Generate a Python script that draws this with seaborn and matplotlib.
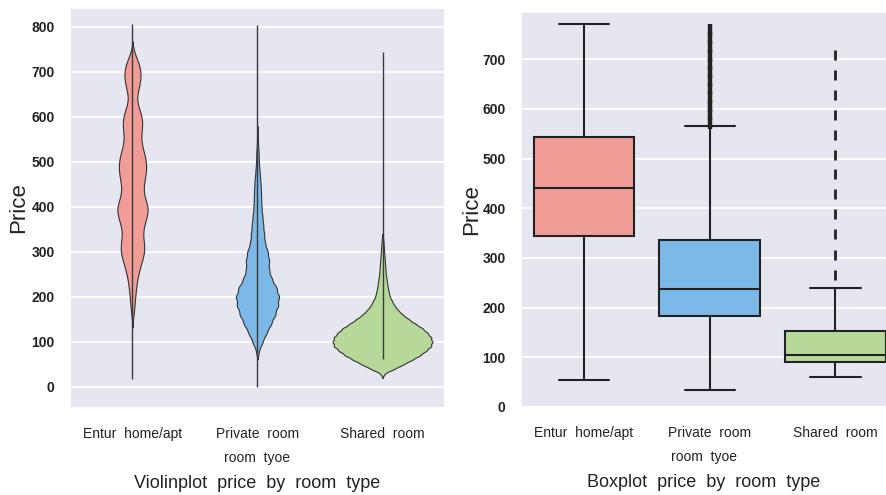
import numpy as np
import pandas as pd
import matplotlib
matplotlib.use("Agg")
import matplotlib.pyplot as plt
import seaborn as sns

# room types and colours
room_types = ["Entur home/apt", "Private room", "Shared room"]
room_colors = ["#F19C96", "#7CB9E8", "#B6D99A"]

# violin data: price levels and how many listings sit at each level
entire_violin_prices = [160, 180, 200, 220, 240, 260, 280, 300, 320, 340, 360,
                        380, 400, 420, 440, 460, 480, 500, 520, 540, 560, 580, 600,
                        620, 640, 660, 680, 700, 720, 740]
entire_violin_counts = [2, 4, 5, 7, 9, 13, 18, 23, 22, 19, 22,
                        28, 30, 23, 20, 23, 26, 26, 22, 17, 16, 19, 18,
                        12, 7, 11, 15, 16, 12, 4]

private_violin_prices = [80, 100, 120, 140, 160, 180, 200, 220, 240, 260, 280,
                         300, 320, 340, 360, 380, 400, 420, 440, 460, 480, 500,
                         520, 540, 560]
private_violin_counts = [5, 18, 32, 48, 62, 72, 76, 67, 50, 40, 41,
                         36, 26, 23, 20, 17, 14, 13, 12, 10, 7, 5,
                         4, 2, 1]

shared_violin_prices = [30, 40, 50, 60, 70, 80, 90, 100, 110, 120, 130, 140, 150,
                        160, 170, 180, 190, 200, 210, 220, 230, 240, 250, 260,
                        270, 280, 290, 300, 310, 320, 330]
shared_violin_counts = [6, 36, 63, 89, 113, 131, 146, 150, 146, 135, 120, 99, 79,
                        61, 47, 36, 29, 22, 19, 16, 14, 12, 10, 9,
                        8, 7, 6, 5, 4, 3, 2]

# full price range of each room type in the violin panel
violin_price_min = [17, 0, 61]
violin_price_max = [806, 804, 744]

# boxplot data
entire_box_prices = [54, 345, 441, 543, 771]
entire_box_counts = [1, 1, 1, 1, 1]

private_box_prices = [35, 184, 238, 337, 565,
                      572, 589, 606, 623, 640, 657, 674, 691, 708, 725, 742, 758]
private_box_counts = [1, 13, 13, 13, 1,
                      1, 1, 1, 1, 1, 1, 1, 1, 1, 1, 1, 1]

shared_box_prices = [60, 90, 105, 152, 239,
                     265, 305, 348, 388, 428, 468, 508, 548, 588, 628, 668, 708]
shared_box_counts = [1, 13, 13, 13, 1,
                     1, 1, 1, 1, 1, 1, 1, 1, 1, 1, 1, 1]


def build_frame(groups):
    parts = []
    for name, (prices, counts) in zip(room_types, groups):
        parts.append(pd.DataFrame({"room_type": name,
                                   "price": np.repeat(prices, counts)}))
    return pd.concat(parts, ignore_index=True)


violin_df = build_frame([(entire_violin_prices, entire_violin_counts),
                         (private_violin_prices, private_violin_counts),
                         (shared_violin_prices, shared_violin_counts)])
box_df = build_frame([(entire_box_prices, entire_box_counts),
                      (private_box_prices, private_box_counts),
                      (shared_box_prices, shared_box_counts)])

sns.set_theme(style="darkgrid", rc={"axes.facecolor": "#E6E6F0",
                                    "grid.color": "white",
                                    "grid.linewidth": 1.3})
plt.rcParams["font.family"] = ["Liberation Sans", "DejaVu Sans"]
palette = dict(zip(room_types, room_colors))
dark = "#222222"

fig = plt.figure(figsize=(8.87, 4.95), dpi=100)
ax1 = fig.add_axes([0.0789, 0.1758, 0.4228, 0.8081])
ax2 = fig.add_axes([0.5874, 0.1778, 0.4126, 0.7980])

# violin panel (width of each violin follows its number of listings)
sns.violinplot(data=violin_df, x="room_type", y="price", hue="room_type",
               order=room_types, palette=palette, saturation=1, legend=False,
               inner=None, density_norm="count", common_norm=True,
               bw_method=0.1, cut=2, gridsize=300, width=0.8,
               linewidth=0.8, linecolor="#333333", ax=ax1)
ax1.vlines(range(len(room_types)), violin_price_min, violin_price_max,
           color="#3a3a3a", linewidth=1.0, zorder=3)
ax1.set_xlim(-0.5, 2.5)
ax1.set_ylim(-47, 842)
ax1.set_yticks(range(0, 801, 100))

# box panel
sns.boxplot(data=box_df, x="room_type", y="price", hue="room_type",
            order=room_types, palette=palette, saturation=1, legend=False,
            width=0.8, linewidth=1.5, linecolor=dark,
            flierprops=dict(marker="|", markersize=7.5, markeredgewidth=2,
                            markeredgecolor=dark), ax=ax2)
# private room outliers are packed into one thick bar
for cont in ax2.containers:
    fliers = getattr(cont, "fliers", [])
    for fl in fliers:
        ydata = np.asarray(fl.get_ydata())
        if ydata.size and ydata.min() > 550:
            fl.set_markeredgewidth(3.2)
            fl.set_markersize(9)
ax2.set_xlim(-0.5, 2.41)
ax2.set_ylim(0, 795)
ax2.set_yticks(range(0, 701, 100))

for ax, caption in [(ax1, "Violinplot  price  by  room  type"),
                    (ax2, "Boxplot  price  by  room  type")]:
    ax.xaxis.grid(False)
    ax.tick_params(axis="x", pad=8, labelsize=10, colors="#222222")
    ax.tick_params(axis="y", pad=5, labelsize=10, colors="#222222")
    for lbl in ax.get_yticklabels():
        lbl.set_fontweight("bold")
    ax.set_xticks(range(len(room_types)))
    ax.set_xticklabels(["Entur  home/apt", "Private  room", "Shared  room"])
    ax.set_xlabel("room  tyoe", fontsize=10, color="#222222")
    ax.xaxis.set_label_coords(0.5, -0.108)
    ax.set_ylabel("Price", fontsize=16, color="#222222")
    ax.text(0.5, -0.19, caption, transform=ax.transAxes, ha="center",
            va="center", fontsize=13, color="#222222")

ax1.yaxis.set_label_coords(-0.109, 0.5)
ax2.yaxis.set_label_coords(-0.107, 0.5)

fig.savefig("out.png", dpi=100)
